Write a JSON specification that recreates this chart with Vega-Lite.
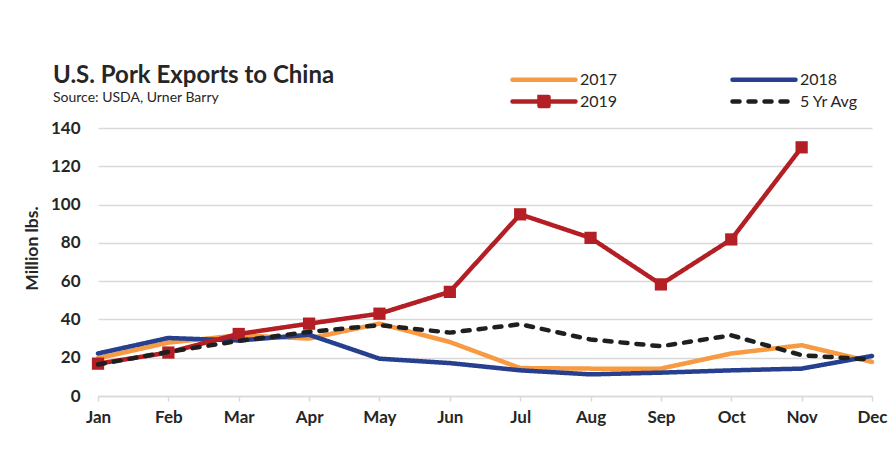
{
  "$schema": "https://vega.github.io/schema/vega-lite/v6.json",
  "autosize": "none",
  "width": 774,
  "height": 268,
  "padding": {"left": 98, "top": 128, "right": 19, "bottom": 74},
  "background": "white",
  "title": {
    "text": "U.S. Pork Exports to China",
    "subtitle": "Source: USDA, Urner Barry",
    "anchor": "start",
    "frame": "group",
    "dx": -45,
    "dy": 58,
    "offset": 20,
    "font": "Lato",
    "fontSize": 24,
    "fontWeight": "bold",
    "color": "#262626",
    "subtitleFont": "Lato",
    "subtitleFontSize": 14,
    "subtitleColor": "#262626",
    "subtitlePadding": 3
  },
  "config": {
    "view": {"stroke": null},
    "font": "Lato"
  },
  "data": {
    "values": [
      {"month": "Jan", "series": "2017", "value": 19.7},
      {"month": "Feb", "series": "2017", "value": 27.9},
      {"month": "Mar", "series": "2017", "value": 31.7},
      {"month": "Apr", "series": "2017", "value": 30},
      {"month": "May", "series": "2017", "value": 37.8},
      {"month": "Jun", "series": "2017", "value": 28.2},
      {"month": "Jul", "series": "2017", "value": 14.6},
      {"month": "Aug", "series": "2017", "value": 14.3},
      {"month": "Sep", "series": "2017", "value": 14.3},
      {"month": "Oct", "series": "2017", "value": 22.2},
      {"month": "Nov", "series": "2017", "value": 26.5},
      {"month": "Dec", "series": "2017", "value": 17.8},
      {"month": "Jan", "series": "2018", "value": 22.2},
      {"month": "Feb", "series": "2018", "value": 30.3},
      {"month": "Mar", "series": "2018", "value": 29},
      {"month": "Apr", "series": "2018", "value": 32},
      {"month": "May", "series": "2018", "value": 19.5},
      {"month": "Jun", "series": "2018", "value": 17.2},
      {"month": "Jul", "series": "2018", "value": 13.4},
      {"month": "Aug", "series": "2018", "value": 11.3},
      {"month": "Sep", "series": "2018", "value": 12.2},
      {"month": "Oct", "series": "2018", "value": 13.4},
      {"month": "Nov", "series": "2018", "value": 14.3},
      {"month": "Dec", "series": "2018", "value": 20.9},
      {"month": "Jan", "series": "2019", "value": 16.9},
      {"month": "Feb", "series": "2019", "value": 22.7},
      {"month": "Mar", "series": "2019", "value": 32.4},
      {"month": "Apr", "series": "2019", "value": 37.8},
      {"month": "May", "series": "2019", "value": 43},
      {"month": "Jun", "series": "2019", "value": 54.4},
      {"month": "Jul", "series": "2019", "value": 94.9},
      {"month": "Aug", "series": "2019", "value": 82.6},
      {"month": "Sep", "series": "2019", "value": 58.3},
      {"month": "Oct", "series": "2019", "value": 81.8},
      {"month": "Nov", "series": "2019", "value": 129.9},
      {"month": "Jan", "series": "5 Yr Avg", "value": 16.5},
      {"month": "Feb", "series": "5 Yr Avg", "value": 23},
      {"month": "Mar", "series": "5 Yr Avg", "value": 28.8},
      {"month": "Apr", "series": "5 Yr Avg", "value": 33.5},
      {"month": "May", "series": "5 Yr Avg", "value": 37},
      {"month": "Jun", "series": "5 Yr Avg", "value": 33.1},
      {"month": "Jul", "series": "5 Yr Avg", "value": 37.5},
      {"month": "Aug", "series": "5 Yr Avg", "value": 29.5},
      {"month": "Sep", "series": "5 Yr Avg", "value": 26},
      {"month": "Oct", "series": "5 Yr Avg", "value": 31.7},
      {"month": "Nov", "series": "5 Yr Avg", "value": 21.3},
      {"month": "Dec", "series": "5 Yr Avg", "value": 19}
    ]
  },
  "encoding": {
    "x": {
      "field": "month",
      "type": "ordinal",
      "scale": {"type": "point", "padding": 0, "domain": ["Jan","Feb","Mar","Apr","May","Jun","Jul","Aug","Sep","Oct","Nov","Dec"]},
      "axis": {
        "title": null,
        "labelAngle": 0,
        "labelFont": "Lato",
        "labelFontSize": 17,
        "labelFontWeight": "bold",
        "labelColor": "#262626",
        "labelPadding": 8,
        "domainColor": "#d9d9d9",
        "domainWidth": 1.5,
        "tickColor": "#d9d9d9",
        "tickWidth": 1.5,
        "tickSize": 5,
        "grid": false
      }
    },
    "y": {
      "field": "value",
      "type": "quantitative",
      "scale": {"domain": [0, 140], "nice": false},
      "axis": {
        "title": "Million lbs.",
        "values": [0, 20, 40, 60, 80, 100, 120, 140],
        "labelFont": "Lato",
        "labelFontSize": 17,
        "labelFontWeight": "bold",
        "labelColor": "#262626",
        "labelPadding": 18,
        "ticks": false,
        "domain": false,
        "gridColor": "#d9d9d9",
        "gridWidth": 1.5,
        "titleFont": "Lato",
        "titleFontSize": 17.5,
        "titleFontWeight": "bold",
        "titleColor": "#262626",
        "titleX": -66,
        "titleY": 120,
        "titleAlign": "center",
        "titleBaseline": "middle",
        "titleAngle": -90
      }
    }
  },
  "layer": [
    {
      "transform": [{"filter": "datum.series !== '5 Yr Avg'"}],
      "mark": {"type": "line", "strokeWidth": 4.5, "strokeCap": "round", "strokeJoin": "round"},
      "encoding": {
        "color": {
          "field": "series",
          "type": "nominal",
          "scale": {"domain": ["2017", "2018", "2019", "5 Yr Avg"], "range": ["#f79a42", "#263f8e", "#b31f24", "#1f1f1f"]},
          "legend": {
            "title": null,
            "orient": "none",
            "legendX": 412,
            "legendY": -61,
            "direction": "horizontal",
            "columns": 2,
            "columnPadding": 105,
            "rowPadding": -1,
            "padding": 0,
            "symbolSize": 400,
            "symbolStrokeWidth": 4.5,
            "labelOffset": 45,
            "labelFont": "Lato",
            "labelFontSize": 16,
            "labelColor": "#262626",
            "encode": {
              "symbols": {
                "update": {
                  "shape": {"signal": "datum.value === '2019' ? 'M-1,0L5.3,0M1.7,-0.45L2.6,-0.45L2.6,0.45L1.7,0.45Z' : 'M-1,0L5.3,0'"},
                  "fill": {"signal": "datum.value === '2019' ? '#b31f24' : 'transparent'"},
                  "strokeCap": {"value": "round"}
                }
              }
            }
          }
        },
        "strokeDash": {
          "field": "series",
          "type": "nominal",
          "scale": {"domain": ["2017", "2018", "2019", "5 Yr Avg"], "range": [[1, 0], [1, 0], [1, 0], [7, 9]]}
        }
      }
    },
    {
      "transform": [{"filter": "datum.series === '2019'"}],
      "mark": {"type": "point", "shape": "square", "filled": true, "opacity": 1, "size": 150, "color": "#b31f24"},
      "encoding": {}
    },
    {
      "transform": [{"filter": "datum.series === '5 Yr Avg'"}],
      "mark": {"type": "line", "strokeWidth": 4.5, "strokeCap": "round", "strokeJoin": "round"},
      "encoding": {
        "color": {"field": "series", "type": "nominal"},
        "strokeDash": {"field": "series", "type": "nominal"}
      }
    }
  ]
}
